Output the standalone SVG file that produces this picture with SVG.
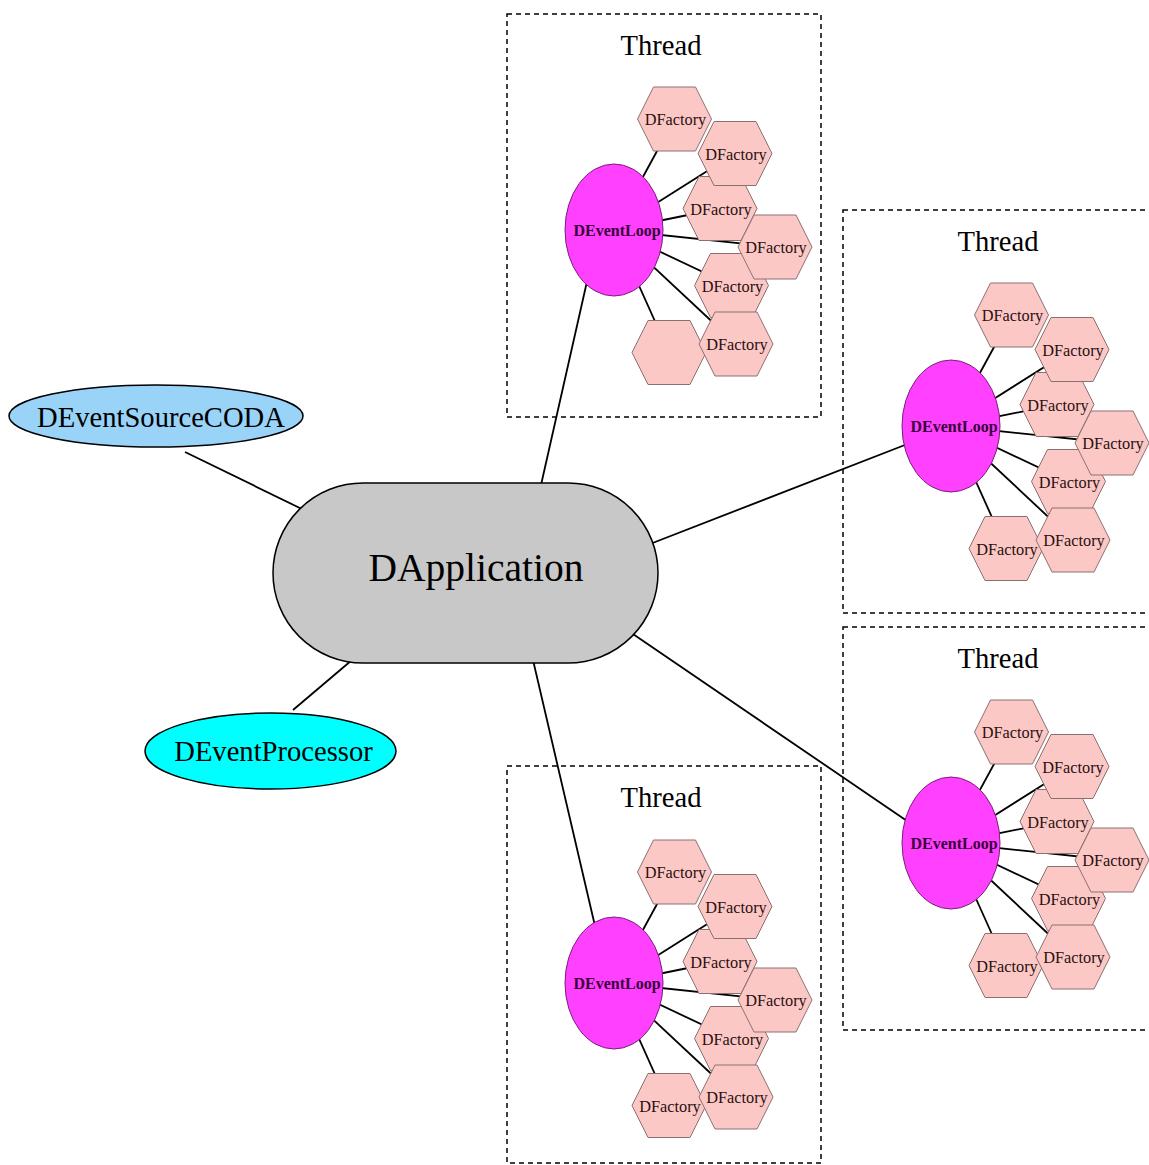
<svg xmlns="http://www.w3.org/2000/svg" width="1149" height="1165" viewBox="0 0 1149 1165">
<style>
.cl{fill:none;stroke:#000;stroke-width:1.5;stroke-dasharray:5,4}
.e{stroke:#000;stroke-width:1.8;fill:none}
.hex{fill:#fcc8c6;stroke:#8c7070;stroke-width:1}
.loop{fill:#ff40ff;stroke:#7a207a;stroke-width:1}
text{font-family:"Liberation Serif","Times New Roman",serif;text-anchor:middle}
.ft{font-size:16.3px;fill:#2a1010}
.lt{font-size:16px;font-weight:bold;fill:#3a003a}
.tt{font-size:28.6px;fill:#000}
.big{font-size:39.5px;fill:#000}
</style>
<defs>
<polygon id="hx" class="hex" points="-37,0 -21,-32 21,-32 37,0 21,32 -21,32"/>
<g id="spokes">
<line class="e" x1="614" y1="230" x2="674.5" y2="119"/>
<line class="e" x1="614" y1="230" x2="735" y2="153.5"/>
<line class="e" x1="614" y1="230" x2="720" y2="208.5"/>
<line class="e" x1="614" y1="230" x2="775" y2="247"/>
<line class="e" x1="614" y1="230" x2="731.5" y2="285.5"/>
<line class="e" x1="614" y1="230" x2="736" y2="344"/>
<line class="e" x1="614" y1="230" x2="669" y2="352.5"/>
</g>
</defs>

<g id="clusters">
<g id="thread1"><rect class="cl" x="507" y="14" width="314" height="403"/><text class="tt" x="661" y="55">Thread</text></g>
<g id="thread2"><rect class="cl" x="843" y="210" width="314" height="403"/><text class="tt" x="998" y="251">Thread</text></g>
<g id="thread3"><rect class="cl" x="843" y="627" width="314" height="403"/><text class="tt" x="998" y="668">Thread</text></g>
<g id="thread4"><rect class="cl" x="507" y="766" width="314" height="397"/><text class="tt" x="661" y="807">Thread</text></g>
</g>

<g id="connectors">
<line class="e" x1="185" y1="452" x2="304" y2="510"/>
<line class="e" x1="293" y1="710" x2="352" y2="660"/>
<line class="e" x1="541" y1="485" x2="588" y2="277"/>
<line class="e" x1="650" y1="544" x2="910" y2="443"/>
<line class="e" x1="630" y1="632" x2="910" y2="823"/>
<line class="e" x1="533" y1="660" x2="595" y2="926"/>
<use href="#spokes"/>
<use href="#spokes" transform="translate(337,196)"/>
<use href="#spokes" transform="translate(337,613)"/>
<use href="#spokes" transform="translate(0,753)"/>
</g>

<g id="DApplication">
<rect x="273" y="483" width="385" height="180" rx="90" ry="90" fill="#c8c8c8" stroke="#000" stroke-width="1.5"/>
<text class="big" x="476" y="581">DApplication</text>
</g>
<g id="DEventSourceCODA">
<ellipse cx="156" cy="416" rx="147" ry="31" fill="#99d3f8" stroke="#000" stroke-width="1.5"/>
<text class="tt" x="161" y="427">DEventSourceCODA</text>
</g>
<g id="DEventProcessor">
<ellipse cx="270.5" cy="751" rx="125.5" ry="38" fill="#00ffff" stroke="#000" stroke-width="1.5"/>
<text class="tt" x="273.5" y="761">DEventProcessor</text>
</g>

<g id="cluster1">
<g id="loop1"><ellipse class="loop" cx="614" cy="230" rx="49" ry="66"/><text class="lt" x="617" y="236">DEventLoop</text></g>
<g id="f1_1"><use href="#hx" x="674.5" y="119"/><text class="ft" x="675.5" y="125">DFactory</text></g>
<g id="f1_3"><use href="#hx" x="720" y="208.5"/><text class="ft" x="721" y="214.5">DFactory</text></g>
<g id="f1_2"><use href="#hx" x="735" y="153.5"/><text class="ft" x="736" y="159.5">DFactory</text></g>
<g id="f1_5"><use href="#hx" x="731.5" y="285.5"/><text class="ft" x="732.5" y="291.5">DFactory</text></g>
<g id="f1_4"><use href="#hx" x="775" y="247"/><text class="ft" x="776" y="253">DFactory</text></g>
<g id="f1_7"><use href="#hx" x="669" y="352.5"/></g>
<g id="f1_6"><use href="#hx" x="736" y="344"/><text class="ft" x="737" y="350">DFactory</text></g>
</g>

<g id="cluster2" transform="translate(337,196)">
<g id="loop2"><ellipse class="loop" cx="614" cy="230" rx="49" ry="66"/><text class="lt" x="617" y="236">DEventLoop</text></g>
<g id="f2_1"><use href="#hx" x="674.5" y="119"/><text class="ft" x="675.5" y="125">DFactory</text></g>
<g id="f2_3"><use href="#hx" x="720" y="208.5"/><text class="ft" x="721" y="214.5">DFactory</text></g>
<g id="f2_2"><use href="#hx" x="735" y="153.5"/><text class="ft" x="736" y="159.5">DFactory</text></g>
<g id="f2_5"><use href="#hx" x="731.5" y="285.5"/><text class="ft" x="732.5" y="291.5">DFactory</text></g>
<g id="f2_4"><use href="#hx" x="775" y="247"/><text class="ft" x="776" y="253">DFactory</text></g>
<g id="f2_7"><use href="#hx" x="669" y="352.5"/><text class="ft" x="670" y="358.5">DFactory</text></g>
<g id="f2_6"><use href="#hx" x="736" y="344"/><text class="ft" x="737" y="350">DFactory</text></g>
</g>

<g id="cluster3" transform="translate(337,613)">
<g id="loop3"><ellipse class="loop" cx="614" cy="230" rx="49" ry="66"/><text class="lt" x="617" y="236">DEventLoop</text></g>
<g id="f3_1"><use href="#hx" x="674.5" y="119"/><text class="ft" x="675.5" y="125">DFactory</text></g>
<g id="f3_3"><use href="#hx" x="720" y="208.5"/><text class="ft" x="721" y="214.5">DFactory</text></g>
<g id="f3_2"><use href="#hx" x="735" y="153.5"/><text class="ft" x="736" y="159.5">DFactory</text></g>
<g id="f3_5"><use href="#hx" x="731.5" y="285.5"/><text class="ft" x="732.5" y="291.5">DFactory</text></g>
<g id="f3_4"><use href="#hx" x="775" y="247"/><text class="ft" x="776" y="253">DFactory</text></g>
<g id="f3_7"><use href="#hx" x="669" y="352.5"/><text class="ft" x="670" y="358.5">DFactory</text></g>
<g id="f3_6"><use href="#hx" x="736" y="344"/><text class="ft" x="737" y="350">DFactory</text></g>
</g>

<g id="cluster4" transform="translate(0,753)">
<g id="loop4"><ellipse class="loop" cx="614" cy="230" rx="49" ry="66"/><text class="lt" x="617" y="236">DEventLoop</text></g>
<g id="f4_1"><use href="#hx" x="674.5" y="119"/><text class="ft" x="675.5" y="125">DFactory</text></g>
<g id="f4_3"><use href="#hx" x="720" y="208.5"/><text class="ft" x="721" y="214.5">DFactory</text></g>
<g id="f4_2"><use href="#hx" x="735" y="153.5"/><text class="ft" x="736" y="159.5">DFactory</text></g>
<g id="f4_5"><use href="#hx" x="731.5" y="285.5"/><text class="ft" x="732.5" y="291.5">DFactory</text></g>
<g id="f4_4"><use href="#hx" x="775" y="247"/><text class="ft" x="776" y="253">DFactory</text></g>
<g id="f4_7"><use href="#hx" x="669" y="352.5"/><text class="ft" x="670" y="358.5">DFactory</text></g>
<g id="f4_6"><use href="#hx" x="736" y="344"/><text class="ft" x="737" y="350">DFactory</text></g>
</g>
</svg>
